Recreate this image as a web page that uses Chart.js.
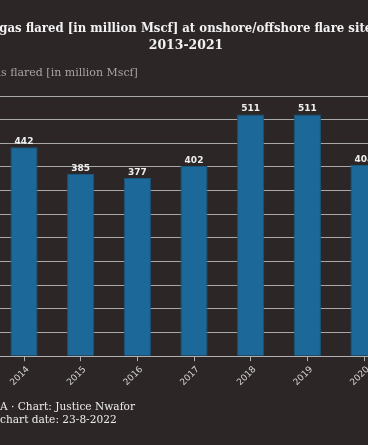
<!DOCTYPE html>
<html>
<head>
<meta charset="utf-8">
<script src="https://cdn.jsdelivr.net/npm/chart.js@4.4.1/dist/chart.umd.min.js"></script>
<style>
  html, body { margin: 0; padding: 0; background: #2d2627; overflow: hidden; }
  #wrap { position: relative; width: 368px; height: 445px; overflow: hidden; }
  #box { position: absolute; left: -85px; top: 0; width: 539px; height: 445px; }
  .foot { position: absolute; left: 0; font-family: "DejaVu Serif", serif; font-size: 10.6px; line-height: 13px; color: #ececec; white-space: nowrap; }
  .foot .pre { position: absolute; right: 100%; top: 0; }
</style>
</head>
<body>
<div id="wrap">
  <div id="box"><canvas id="gas-chart"></canvas></div>
  <div class="foot" style="top:400px;"><span class="pre">Source: NOSDR</span>A · Chart: Justice Nwafor</div>
  <div class="foot" style="top:413px;"><span class="pre">Publication</span> chart date: 23-8-2022</div>
</div>
<script>
/* Data */
const years = ['2013', '2014', '2015', '2016', '2017', '2018', '2019', '2020', '2021'];
const gasFlared = [430, 442, 385, 377, 402, 511, 511, 404, 360];

const titleLines = [
  'Volumes of gas flared [in million Mscf] at onshore/offshore flare sites in Nigeria',
  '2013-2021'
];
const axisLabel = 'Volumes of gas flared [in million Mscf]';

// value labels above the bars
const barLabels = {
  id: 'barLabels',
  afterDatasetsDraw(chart) {
    const ctx = chart.ctx;
    const meta = chart.getDatasetMeta(0);
    ctx.save();
    ctx.font = 'bold 9px "DejaVu Sans"';
    ctx.fillStyle = '#eeeeee';
    ctx.textAlign = 'center';
    ctx.textBaseline = 'bottom';
    meta.data.forEach((bar, i) => {
      ctx.fillText(chart.data.datasets[0].data[i], bar.x, bar.y - 1);
    });
    ctx.restore();
  }
};

const config = {
  type: 'bar',
  data: {
    labels: years,
    datasets: [{
      label: 'Gas flared',
      data: gasFlared,
      backgroundColor: '#1c6898',
      borderColor: '#19577f',
      borderWidth: 1,
      categoryPercentage: 0.8,
      barPercentage: 0.6
    }]
  },
  options: {
    responsive: true,
    maintainAspectRatio: false,
    animation: false,
    layout: {
      padding: { top: 10, left: 8, right: 5, bottom: 54 }
    },
    plugins: {
      legend: { display: false },
      tooltip: { enabled: false },
      title: {
        display: true,
        text: titleLines,
        color: '#f2f2f2',
        font: { family: '"DejaVu Serif", serif', size: 12.45, weight: 'bold', lineHeight: 1.4 },
        padding: { top: 10, bottom: 12 }
      },
      subtitle: {
        display: true,
        text: axisLabel,
        align: 'start',
        color: '#a9a4a4',
        font: { family: '"DejaVu Serif", serif', size: 11 },
        padding: { top: 0, bottom: 16 }
      }
    },
    scales: {
      x: {
        grid: {
          offset: false,
          drawOnChartArea: false,
          drawTicks: true,
          tickLength: 5,
          color: '#b0b0b0'
        },
        border: { color: '#b0b0b0' },
        ticks: {
          color: '#d4d4d4',
          minRotation: 45,
          maxRotation: 45,
          labelOffset: 4,
          font: { family: '"DejaVu Sans"', size: 9 }
        }
      },
      y: {
        min: 0,
        max: 550,
        afterFit(scale) { scale.width = 16; },
        grid: { color: '#a8a8a8', lineWidth: 1, drawTicks: false },
        border: { display: false },
        ticks: {
          stepSize: 50,
          padding: 2,
          color: '#cfcfcf',
          font: { family: '"DejaVu Sans"', size: 9 }
        }
      }
    }
  },
  plugins: [barLabels]
};

let ctx = document.getElementById('gas-chart').getContext('2d');
let gasChart = new Chart(ctx, config);
</script>
</body>
</html>
